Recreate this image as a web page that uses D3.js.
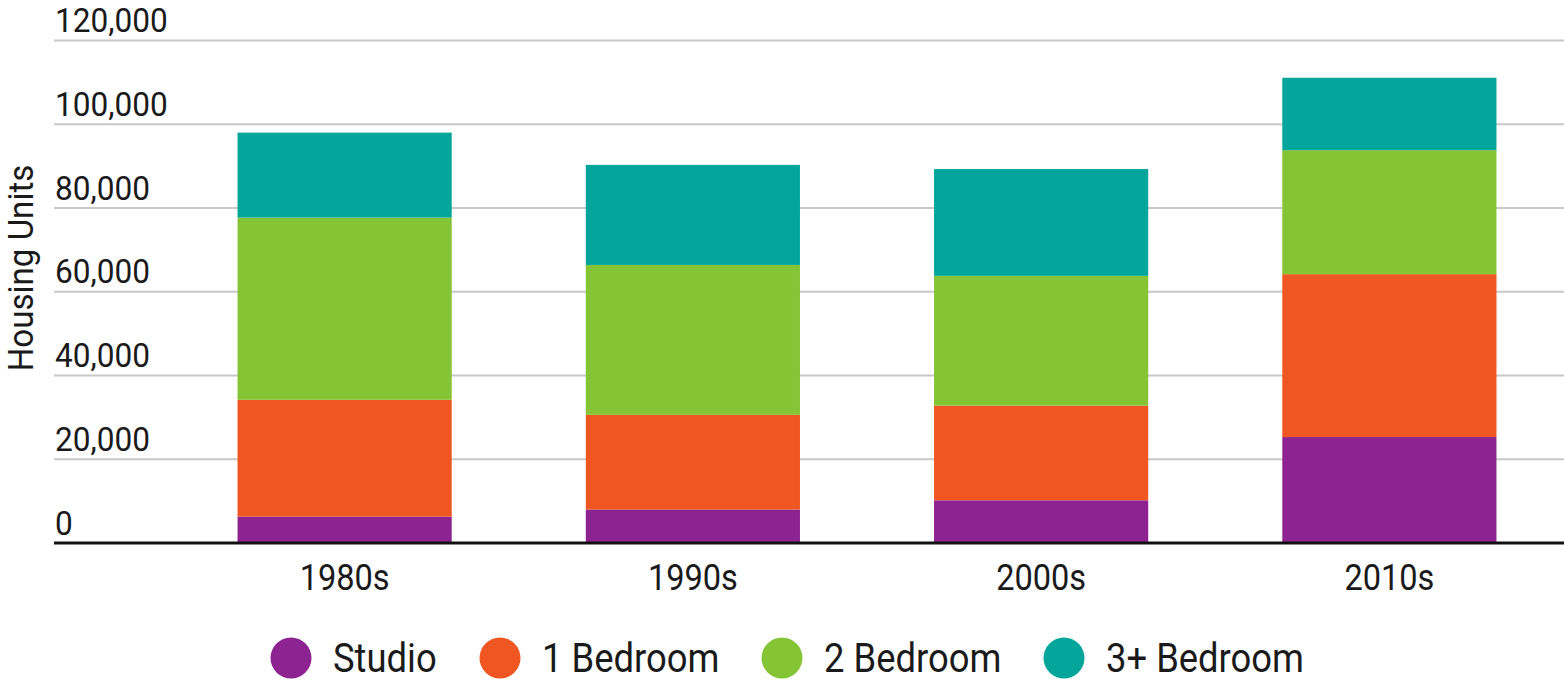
<!DOCTYPE html>
<html>
<head>
<meta charset="utf-8">
<script src="https://cdn.jsdelivr.net/npm/d3@7"></script>
<style>
  html, body { margin: 0; padding: 0; background: #fff; }
  svg { display: block; font-family: "Roboto", "Liberation Sans", sans-serif; }
</style>
</head>
<body>
<svg id="chart" width="1564" height="680"></svg>
<script>
const decades = ["1980s", "1990s", "2000s", "2010s"];
const seriesNames = ["Studio", "1 Bedroom", "2 Bedroom", "3+ Bedroom"];
const studio = [6300, 8000, 10200, 25300];
const oneBedroom = [27900, 22600, 22600, 38900];
const twoBedroom = [43500, 35800, 31000, 29600];
const threePlusBedroom = [20300, 23900, 25500, 17300];
const yTicks = [0, 20000, 40000, 60000, 80000, 100000, 120000];
const colors = ["#8C2391", "#F05622", "#85C434", "#04A69C"];

const rows = decades.map((d, i) => ({
  decade: d,
  "Studio": studio[i],
  "1 Bedroom": oneBedroom[i],
  "2 Bedroom": twoBedroom[i],
  "3+ Bedroom": threePlusBedroom[i]
}));

const svg = d3.select("#chart");
const W = 1564;
const plotTop = 40.5, plotBottom = 543;

const y = d3.scaleLinear().domain([0, 120000]).range([plotBottom, plotTop]);
const x = d3.scaleBand().domain(decades).range([170.5, 1563.5])
  .paddingInner(0.385).paddingOuter(0.1925);
const color = d3.scaleOrdinal().domain(seriesNames).range(colors);

// gridlines + y labels
const fmt = d3.format(",");
const yg = svg.append("g");
yg.selectAll("line").data(yTicks.filter(t => t > 0)).join("line")
  .attr("x1", 54).attr("x2", W)
  .attr("y1", d => y(d)).attr("y2", d => y(d))
  .attr("stroke", "#c8c8c8").attr("stroke-width", 2);
yg.selectAll("text").data(yTicks).join("text")
  .attr("transform", d => `translate(55,${y(d) - 8.5}) scale(0.93,1)`)
  .attr("font-size", 34).attr("fill", "#1a1a1a")
  .text(d => fmt(d));

// stacked bars
const stack = d3.stack().keys(seriesNames);
const layers = stack(rows);
svg.append("g").selectAll("g").data(layers).join("g")
  .attr("fill", d => color(d.key))
  .selectAll("rect").data(d => d).join("rect")
  .attr("x", d => x(d.data.decade))
  .attr("width", x.bandwidth())
  .attr("y", d => y(d[1]))
  .attr("height", d => y(d[0]) - y(d[1]));

// baseline
svg.append("line").attr("x1", 54).attr("x2", W)
  .attr("y1", y(0)).attr("y2", y(0))
  .attr("stroke", "#111").attr("stroke-width", 3);

// x axis labels
svg.append("g").selectAll("text").data(decades).join("text")
  .attr("text-anchor", "middle")
  .attr("transform", d => `translate(${x(d) + x.bandwidth() / 2},590) scale(0.88,1)`)
  .attr("font-size", 37).attr("fill", "#1a1a1a")
  .text(d => d);

// y axis title
svg.append("text")
  .attr("transform", "translate(33,268) rotate(-90) scale(0.92,1)")
  .attr("text-anchor", "middle")
  .attr("font-size", 36).attr("fill", "#1a1a1a")
  .text("Housing Units");

// legend
const legendX = [291, 500, 782, 1064];
const lg = svg.append("g").selectAll("g").data(seriesNames).join("g")
  .attr("transform", (d, i) => `translate(${legendX[i]},658)`);
lg.append("circle").attr("r", 20.5).attr("fill", d => color(d));
lg.append("text")
  .attr("transform", "translate(42,14) scale(0.91,1)")
  .attr("font-size", 40).attr("fill", "#1a1a1a")
  .text(d => d);
</script>
</body>
</html>
